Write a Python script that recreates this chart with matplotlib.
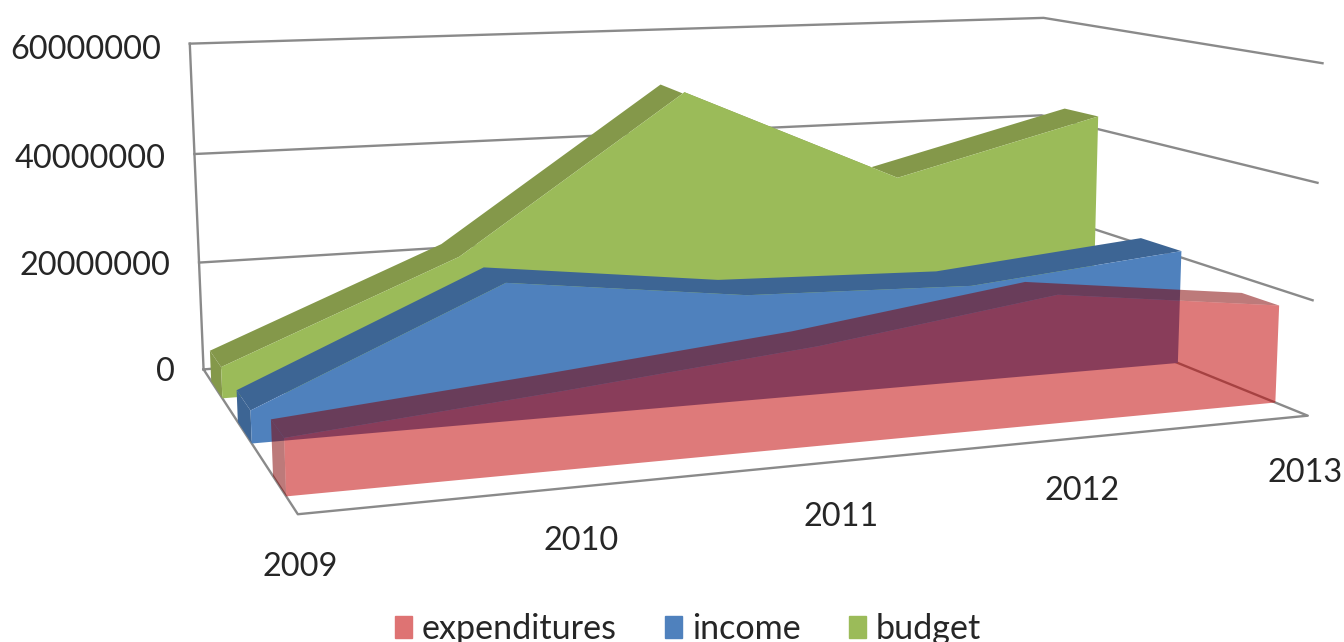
import numpy as np
import matplotlib
matplotlib.use("Agg")
import matplotlib.pyplot as plt
from matplotlib.patches import Patch
from mpl_toolkits.mplot3d.art3d import Poly3DCollection

plt.rcParams['font.family'] = ['Lato', 'DejaVu Sans']

years = ['2009', '2010', '2011', '2012', '2013']
value_ticks = [0, 20000000, 40000000, 60000000]
tick_labels = ['0', '20000000', '40000000', '60000000']
budget = [5.6e6, 22.5e6, 50.5e6, 32.5e6, 42.5e6]
income = [5.5e6, 23.7e6, 18.7e6, 17.5e6, 21.2e6]
expenditures = [9e6, 12.6e6, 16.5e6, 22e6, 17.2e6]

W, H = 1344, 642
fig = plt.figure(figsize=(W / 100, H / 100), dpi=100, facecolor='white')
ax = fig.add_axes([0, 0, 1, 1], projection='3d', computed_zorder=False)
ax.apply_aspect = lambda position=None: None
ax.set_axis_off()

# Camera calibration: world corners of the plot box (category, depth, value)
# and where each one should land on the canvas.
box_world = np.array([
    [0, 1, 60e6], [4, 1, 60e6], [4, 0, 60e6],
    [0, 1, 0], [0, 0, 0], [4, 0, 0],
], float)
box_canvas = np.array([
    [190, 43], [1043, 17], [1323, 65],
    [204, 371], [297, 513], [1308, 415],
], float)
ZS = 1e7


def solve_camera():
    rows = []
    for (x, y, z), (u, v) in zip(box_world, box_canvas):
        v = H - v
        p = [x, y, z / ZS, 1]
        rows.append(p + [0] * 4 + [-u * c for c in p])
        rows.append([0] * 4 + p + [-v * c for c in p])
    cam = np.linalg.svd(np.array(rows))[2][-1].reshape(3, 4)
    return cam @ np.diag([1, 1, 1 / ZS, 1])


CAM = solve_camera()


def get_proj():
    # canvas pixels to the axes' own 2D view coordinates
    to_view = ax.transData.inverted()
    o, ex, ey = to_view.transform([[0, 0], [1, 0], [0, 1]])
    A = np.array([[ex[0] - o[0], ey[0] - o[0], o[0]],
                  [ex[1] - o[1], ey[1] - o[1], o[1]],
                  [0, 0, 1]])
    P = A @ CAM
    return np.vstack([P[0], P[1], [0, 1, 0, 0.37], P[2]])


ax.get_proj = get_proj

GRID = '#8a8a8a'
LW = 1.7
n = len(years) - 1
for v in value_ticks[1:]:
    ax.plot([0, n, n], [1, 1, 0], [v, v, v], color=GRID, lw=LW, zorder=1)
ax.plot([0, 0], [1, 1], [0, value_ticks[-1]], color=GRID, lw=LW, zorder=1)
ax.plot([0, n, n, 0, 0], [1, 1, 0, 0, 1], [0, 0, 0, 0, 0], color=GRID, lw=LW, zorder=1)

# One slab per series, back to front; each has a front face, a lid and a left end.
series = [
    (budget, 0.76, 0.90, '#9BBB59', '#84984A', 1.0),
    (income, 0.43, 0.58, '#4F81BD', '#3D6594', 1.0),
    (expenditures, 0.10, 0.22, '#C00000', '#820000', 0.52),
]
xs = np.arange(len(years))
order = 2
for vals, front, back, face, dark, alpha in series:
    vals = np.array(vals)
    lid = [(x, front, v) for x, v in zip(xs, vals)] + \
          [(x, back, v) for x, v in zip(xs[::-1], vals[::-1])]
    side = [(0, front, 0), (0, front, vals[0]), (0, back, vals[0]), (0, back, 0)]
    body = [(x, front, v) for x, v in zip(xs, vals)] + [(n, front, 0), (0, front, 0)]
    for verts, col in ((side, dark), (lid, dark), (body, face)):
        ax.add_collection3d(Poly3DCollection([verts], facecolors=col, edgecolors='none',
                                             alpha=alpha, zorder=order), autolim=False)
        order += 1

FS = 23.4
for v, lab in zip(value_ticks, tick_labels):
    ax.text(-0.12, 1, v * 0.985, lab, ha='right', va='center', fontsize=FS, color='#262626', zorder=50)
label_drop = [8.05e6, 8.6e6, 9.2e6, 9.05e6, 10e6]
for i, lab in enumerate(years):
    ax.text(i, 0, -label_drop[i], lab, ha='center', va='center', fontsize=FS, color='#262626', zorder=50)

handles = [Patch(color='#DE7373'), Patch(color='#4F81BD'), Patch(color='#9BBB59')]
fig.legend(handles, ['expenditures', 'income', 'budget'], ncol=3, frameon=False,
           loc='center', bbox_to_anchor=(688 / W, 1 - 629 / H), fontsize=24.6,
           labelcolor='#262626', handlelength=0.5, handleheight=0.62,
           handletextpad=0.3, columnspacing=1.4, borderaxespad=0, borderpad=0)

fig.savefig('out.png', dpi=100)
